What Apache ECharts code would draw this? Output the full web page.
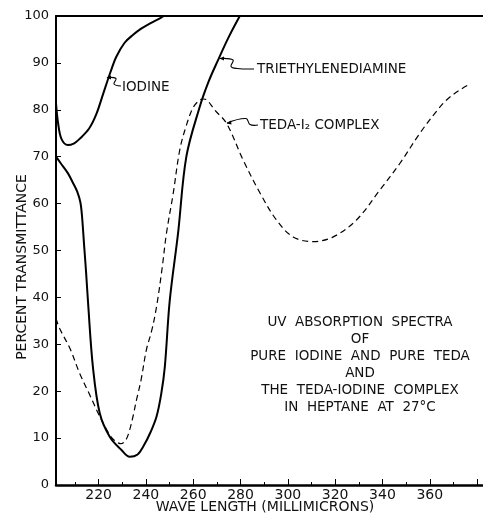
<!DOCTYPE html>
<html>
<head>
<meta charset="utf-8">
<title>UV absorption spectra</title>
<script src="https://cdn.jsdelivr.net/npm/echarts@6/dist/echarts.min.js"></script>
<style>
  html, body { margin: 0; padding: 0; background: #fff; }
  #chart { width: 483px; height: 515px; }
</style>
</head>
<body>
<div id="chart"></div>
<script>
// 波长刻度
var xMajorTicks = [220, 240, 260, 280, 300, 320, 340, 360, 380];
var xMinorTicks = [210, 230, 250, 270, 290, 310, 330, 350, 370];
var xLabels = [220, 240, 260, 280, 300, 320, 340, 360];

// 碘 (iodine) [波长, 透过率]
var iodine = [
  [202, 81.4], [202.9, 77.1], [204.3, 73.8], [207, 72.5], [209.5, 72.8], [212, 73.8],
  [216, 76], [219, 79], [222, 83.5], [225, 88], [227.5, 91.3], [231, 94.3],
  [234.6, 96], [238, 97.3], [242, 98.5], [245.9, 99.5], [247.5, 100]
];

// 三乙烯二胺 (triethylenediamine)
var teda = [
  [202, 70], [204, 68.6], [207, 66.5], [209.3, 64.3], [211, 62.5], [212.3, 60.3],
  [213, 57.3], [213.9, 51], [214.7, 45.5], [215.6, 38.5], [217.6, 25.2], [220.5, 15.3],
  [224.7, 10.3], [229.6, 7.5], [233.2, 6.0], [236.5, 6.5], [239, 8.3], [242, 11.3],
  [244.5, 14.6], [246.5, 19.5], [248, 25.2], [250.1, 39.4], [253.6, 53.7], [257.1, 70],
  [262.8, 80.7], [266.5, 86], [270.5, 90.6], [275, 95.5], [279.7, 100]
];

// TEDA-I2 络合物 (complex)
var complex = [
  [202, 35.5], [203.5, 33.4], [208, 29], [212, 23.8], [216, 19.5], [220.5, 14.6],
  [224.7, 10.7], [227, 9.4], [229.5, 8.8], [231.5, 9.6], [233, 11.5], [234.5, 14.5],
  [236, 18.1], [238, 22.5], [240.2, 28.8], [242.5, 33], [244.5, 38], [246.8, 46],
  [248.7, 53.7], [251.5, 62], [254.3, 71.4], [257, 76.5], [260, 80.5], [262.8, 82.1],
  [264.5, 82.3], [266, 82], [269, 80], [274.1, 77.1], [281.1, 69.3], [288.3, 62.2],
  [295.2, 56.5], [302.2, 52.9], [310.7, 51.9], [319.2, 52.9], [329, 56.5], [338.9, 62.9],
  [347.4, 68.6], [355.8, 75], [363, 79.8], [367.1, 82.1], [372, 84], [376.3, 85.3]
];

var noteLines = [
  'UV  ABSORPTION  SPECTRA',
  'OF',
  'PURE  IODINE  AND  PURE  TEDA',
  'AND',
  'THE  TEDA-IODINE  COMPLEX',
  'IN  HEPTANE  AT  27°C'
];

var FONT = '"DejaVu Sans", sans-serif';
var INK = '#111';

var chart = echarts.init(document.getElementById('chart'), null, { renderer: 'canvas' });

function curve(name, data, dashed) {
  return {
    name: name,
    type: 'line',
    data: data,
    xAxisIndex: 0,
    showSymbol: false,
    smooth: 0.35,
    silent: true,
    lineStyle: {
      color: '#000',
      width: dashed ? 1.2 : 2,
      type: dashed ? [6, 4] : 'solid'
    }
  };
}

// 标注文字
var graphics = [];
function label(text, x, y, align, size) {
  graphics.push({
    type: 'text',
    style: {
      text: text, x: x, y: y, fill: INK,
      font: (size || 13.5) + 'px ' + FONT,
      align: align || 'left', verticalAlign: 'middle'
    }
  });
}
// 引线(带小箭头)
function leader(points, head) {
  graphics.push({
    type: 'polyline',
    shape: { points: points, smooth: 0.4 },
    style: { stroke: '#000', lineWidth: 1.1, fill: null }
  });
  graphics.push({
    type: 'polygon',
    shape: { points: head },
    style: { fill: '#000' }
  });
}

label('IODINE', 122, 87);
leader([[107, 77.5], [116, 78.5], [114, 84], [121, 86]], [[106.5, 77.5], [111, 75.5], [111, 79.5]]);

label('TRIETHYLENEDIAMINE', 257, 69);
leader([[220, 58.5], [233, 60], [231, 66.5], [237, 68.5], [254, 69]], [[219.5, 58.5], [224, 56.5], [224, 60.5]]);

label('TEDA-I₂ COMPLEX', 260, 125);
leader([[227, 123], [246, 118.5], [250, 124.5], [258, 125]], [[226.5, 123.5], [231, 120.5], [231.5, 124.5]]);

for (var i = 0; i < noteLines.length; i++) {
  label(noteLines[i], 360, 322 + i * 17, 'center');
}

// 坐标轴标题
label('WAVE LENGTH (MILLIMICRONS)', 265, 507, 'center', 14);
graphics.push({
  type: 'text',
  x: 22, y: 267, rotation: Math.PI / 2,
  style: {
    text: 'PERCENT TRANSMITTANCE', x: 0, y: 0, fill: INK,
    font: '14px ' + FONT, align: 'center', verticalAlign: 'middle'
  }
});

var option = {
  animation: false,
  backgroundColor: '#fff',
  grid: { left: 56, right: 0, top: 16, bottom: 30, containLabel: false },
  xAxis: [{
    type: 'value', min: 202, max: 382.5, position: 'bottom',
    axisLine: { show: true, lineStyle: { color: '#000', width: 2.5 } },
    axisTick: { show: true, inside: true, length: 6, customValues: xMajorTicks, lineStyle: { color: '#000', width: 1 } },
    axisLabel: { show: true, customValues: xLabels, margin: 3, color: INK, fontSize: 14, fontFamily: FONT },
    splitLine: { show: false }
  }, {
    type: 'value', min: 202, max: 382.5, position: 'bottom',
    axisLine: { show: false },
    axisTick: { show: true, inside: true, length: 3, customValues: xMinorTicks, lineStyle: { color: '#000', width: 1 } },
    axisLabel: { show: false },
    splitLine: { show: false }
  }, {
    type: 'value', min: 202, max: 382.5, position: 'top',
    axisLine: { show: true, lineStyle: { color: '#000', width: 2 } },
    axisTick: { show: false },
    axisLabel: { show: false },
    splitLine: { show: false }
  }],
  yAxis: {
    type: 'value', min: 0, max: 100, interval: 10,
    axisLine: { show: true, lineStyle: { color: '#000', width: 2 } },
    axisTick: { show: true, inside: true, length: 5, lineStyle: { color: '#000', width: 1 } },
    axisLabel: { margin: 7, color: INK, fontSize: 13, fontFamily: FONT },
    splitLine: { show: false }
  },
  series: [
    curve('Iodine', iodine, false),
    curve('Triethylenediamine', teda, false),
    curve('TEDA-I2 complex', complex, true)
  ],
  graphic: graphics
};

chart.setOption(option);
</script>
</body>
</html>
